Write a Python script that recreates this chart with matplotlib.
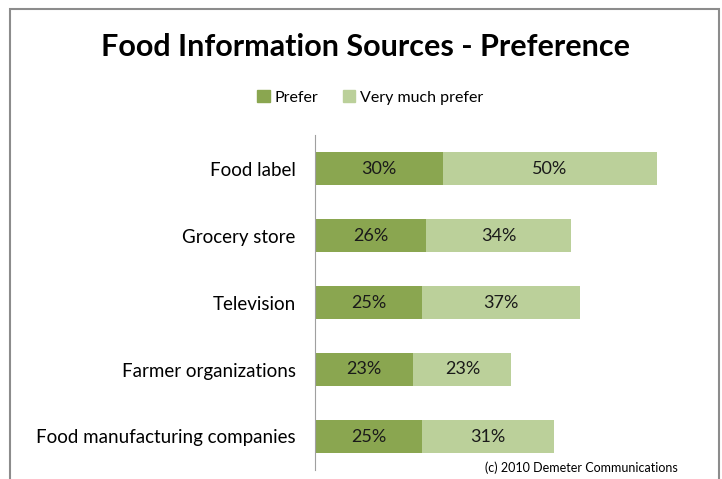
import matplotlib
matplotlib.use("Agg")
import matplotlib.pyplot as plt
from matplotlib.patches import Rectangle, Patch

# ── data ──────────────────────────────────────────────────────────────────────

SOURCES     = ["Food label", "Grocery store", "Television",
               "Farmer organizations", "Food manufacturing companies"]
PREFER      = [30, 26, 25, 23, 25]
VERY_MUCH   = [50, 34, 37, 23, 31]

DARK  = "#8AA650"
LIGHT = "#BBD09A"
FONT  = "Lato"

plt.rcParams["font.family"] = [FONT, "DejaVu Sans"]

fig = plt.figure(figsize=(7.22, 4.79), dpi=100)

# grey frame around the chart area
fig.patches.append(Rectangle((10 / 722, -0.05), 709 / 722, 1.05 - 9 / 479,
                             transform=fig.transFigure, fill=False,
                             edgecolor="#8C8C8C", linewidth=1.5))

ax = fig.add_axes([315 / 722, 9 / 479, 390 / 722, 335 / 479])

y = list(range(len(SOURCES)))
b1 = ax.barh(y, PREFER, height=0.5, color=DARK, label="Prefer")
b2 = ax.barh(y, VERY_MUCH, left=PREFER, height=0.5, color=LIGHT,
             label="Very much prefer")

for bars, vals, lefts in [(b1, PREFER, [0] * len(PREFER)),
                          (b2, VERY_MUCH, PREFER)]:
    for bar, v, l in zip(bars, vals, lefts):
        ax.text(l + v / 2, bar.get_y() + bar.get_height() / 2, f"{v}%",
                ha="center", va="center", fontsize=13, color="#1a1a1a")

ax.set_ylim(len(SOURCES) - 0.5, -0.5)
ax.set_xlim(0, 91.3)
ax.set_yticks(y)
ax.set_yticklabels(SOURCES, fontsize=13.5)
ax.tick_params(axis="y", length=0, pad=14)
ax.set_xticks([])
for s in ["top", "right", "bottom"]:
    ax.spines[s].set_visible(False)
ax.spines["left"].set_color("#A0A0A0")

fig.text(0.506, 0.902, "Food Information Sources - Preference",
         ha="center", va="center", fontsize=22, fontweight="bold")

fig.legend(handles=[Patch(color=DARK, label="Prefer"),
                    Patch(color=LIGHT, label="Very much prefer")],
           loc="center", bbox_to_anchor=(0.513, 0.797), ncol=2,
           frameon=False, fontsize=11.5, handlelength=0.8, handleheight=0.8,
           handletextpad=0.3, columnspacing=1.5)

fig.text(678 / 722, 1 - 468 / 479, "(c) 2010 Demeter Communications",
         ha="right", va="center", fontsize=9)

fig.savefig("out.png", dpi=100)
